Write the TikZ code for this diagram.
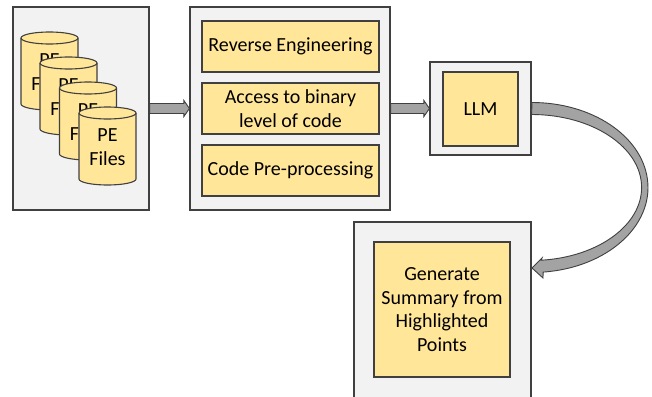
\documentclass[tikz,border=0pt]{standalone}
\usepackage{fontspec}
\setmainfont{Carlito}
\usetikzlibrary{calc}
\definecolor{boxgray}{HTML}{F2F2F2}
\definecolor{boxyellow}{HTML}{FFE699}
\definecolor{edge}{HTML}{404040}
\definecolor{arrowgray}{HTML}{A3A3A3}
\tikzset{
  outerbox/.style={draw=edge, line width=1.2pt, fill=boxgray, inner sep=0pt},
  innerbox/.style={draw=edge, line width=1.1pt, fill=boxyellow, inner sep=0pt, align=center,
    font=\fontsize{20}{23.5}\selectfont},
  cylbody/.style={draw=edge, line width=1.1pt, fill=boxyellow},
  cyltext/.style={align=center, inner sep=0pt, font=\fontsize{20}{24}\selectfont},
  blockarrow/.style={draw=edge, line width=0.9pt, fill=arrowgray, line join=miter},
}
\newcommand{\mycyl}[3]{%
  \path[cylbody] (#2,#3+6) -- (#2,#3+72) arc[start angle=180,end angle=0,x radius=28.5,y radius=6]
    -- (#2+57,#3+6) arc[start angle=0,end angle=-180,x radius=28.5,y radius=6] -- cycle;
  \draw[draw=edge, line width=1.1pt] (#2,#3+6) arc[start angle=180,end angle=0,x radius=28.5,y radius=6];
  \node[cyltext] (#1) at (#2+28.5,#3+40) {PE\\Files};
}
\begin{document}
\begin{tikzpicture}[x=1pt,y=-1pt]
\clip (0,0) rectangle (652,396);
\fill[white] (0,0) rectangle (652,396);
% outer boxes
\node[outerbox, minimum width=136, minimum height=203] (src) at (81,108.5) {};
\node[outerbox, minimum width=200, minimum height=203] (pre) at (290,108.5) {};
\node[outerbox, minimum width=101, minimum height=93] (llmo) at (480.5,108.5) {};
\node[outerbox, minimum width=177, minimum height=182] (outo) at (442.5,313) {};
% cylinders
\mycyl{cylA}{21}{32}
\mycyl{cylB}{40}{57}
\mycyl{cylC}{59.5}{82}
\mycyl{cylD}{79}{107}
% inner boxes
\node[innerbox, minimum width=177, minimum height=51] (rev) at (290.5,46.5) {Reverse Engineering};
\node[innerbox, minimum width=177, minimum height=51] (acc) at (290.5,108.5) {Access to binary\\level of code};
\node[innerbox, minimum width=177, minimum height=51] (cpp) at (290.5,170.5) {Code Pre-processing};
\node[innerbox, minimum width=75, minimum height=74] (llm) at (480.5,109) {LLM};
\node[innerbox, minimum width=136, minimum height=135] (gen) at (442,309.5) {Generate\\Summary from\\Highlighted\\Points};
% straight block arrows
\draw[blockarrow] ([yshift=5pt]src.east) -- ([xshift=-5.5pt,yshift=5pt]pre.west)
  -- ([xshift=-5.5pt,yshift=8pt]pre.west) -- (pre.west) -- ([xshift=-5.5pt,yshift=-8pt]pre.west)
  -- ([xshift=-5.5pt,yshift=-5pt]pre.west) -- ([yshift=-5pt]src.east) -- cycle;
\draw[blockarrow] ([yshift=5pt]pre.east) -- ([xshift=-5.5pt,yshift=5pt]llmo.west)
  -- ([xshift=-5.5pt,yshift=8pt]llmo.west) -- (llmo.west) -- ([xshift=-5.5pt,yshift=-8pt]llmo.west)
  -- ([xshift=-5.5pt,yshift=-5pt]llmo.west) -- ([yshift=-5pt]pre.east) -- cycle;
% curved arrow
\coordinate (tip) at (532,268);
\draw[blockarrow] ([yshift=-6pt]llmo.east)
  arc[start angle=-90,end angle=85,x radius=110,y radius=73]
  -- (542,258) -- (tip) -- (543,278) -- (543.1,272.1)
  arc[start angle=84.5,end angle=-90,x radius=116,y radius=85] -- cycle;
\end{tikzpicture}
\end{document}
